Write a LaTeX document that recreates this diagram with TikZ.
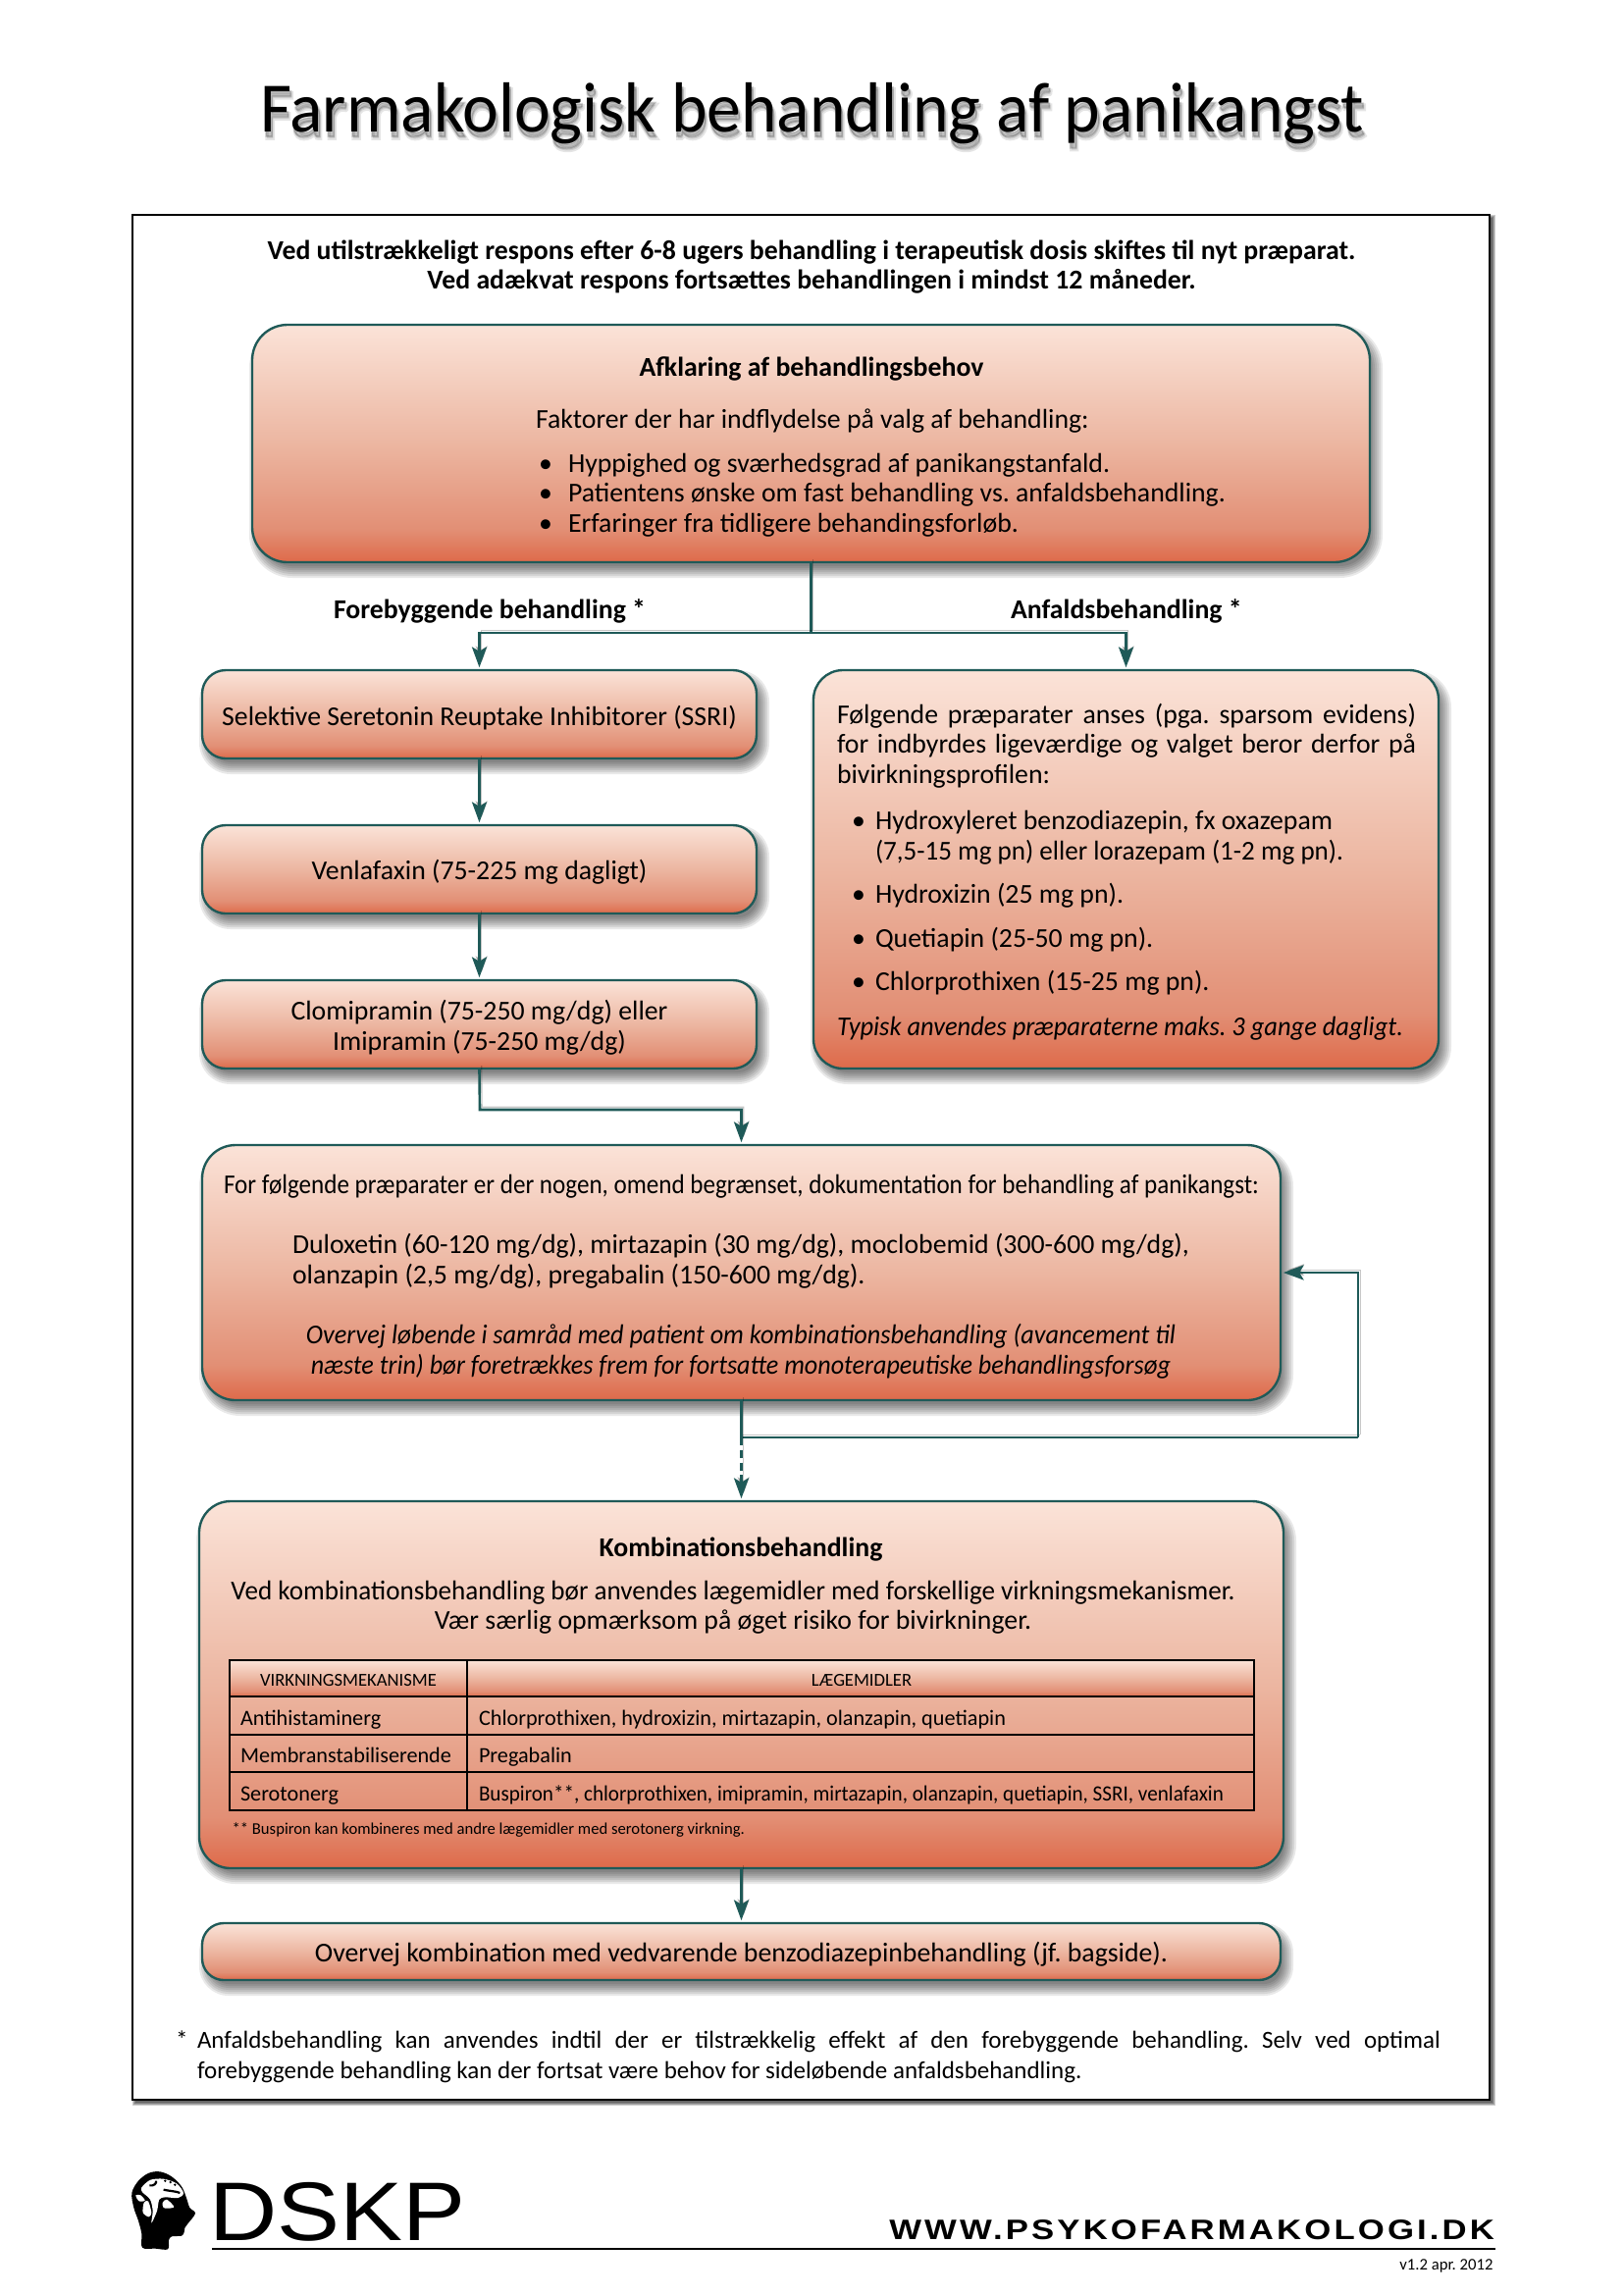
\documentclass[tikz,border=0pt]{standalone}
\usepackage{fontspec}
\usepackage{graphicx}
\setmainfont{Carlito}
\newfontfamily\logofont{Liberation Sans}
\newfontfamily\shadowA[FakeBold=5]{Carlito}
\newfontfamily\shadowB[FakeBold=2.4]{Carlito}
\usetikzlibrary{arrows.meta,calc}
\definecolor{tealline}{HTML}{1F5A58}
\definecolor{grD}{HTML}{DE6A4A}
\definecolor{grC}{HTML}{E28F75}
\definecolor{grB}{HTML}{ECB6A1}
\definecolor{grA}{HTML}{FBE3D8}
\pgfdeclareverticalshading{boxshade}{100bp}{color(0bp)=(grD); color(25bp)=(grD); color(32bp)=(grC); color(50bp)=(grB); color(75bp)=(grA); color(100bp)=(grA)}
\newcommand\softshadow[7]{%
  \foreach \e in {8,6,4,2,0,-2,-4}{%
    \pgfmathsetmacro\rr{max(#5+\e,0)*0.36}%
    \fill[black,opacity=.085,rounded corners=\rr pt] ({#1+#6-\e},{#2+#7-\e}) rectangle ({#3+#6+\e},{#4+#7+\e});
  }}
% name, x1,y1,x2,y2, radius, text
\newcommand\softbox[7]{%
  \softshadow{#2}{#3}{#4}{#5}{#6}{5}{8}%
  \pgfmathsetmacro\bw{(#4-#2)*0.36}\pgfmathsetmacro\bh{(#5-#3)*0.36}\pgfmathsetmacro\brr{#6*0.36}%
  \node[flowbox,rounded corners=\brr pt,minimum width=\bw pt,minimum height=\bh pt] (#1) at ({(#2+#4)/2},{(#3+#5)/2}) {#7};}
\newcommand\fitw[2]{\resizebox{\dimexpr #1*36/100\relax}{\height}{#2}}
\newcommand\just[2]{\makebox[\dimexpr #1*36/100\relax][s]{#2}}
\newcommand\dn{\rule{0pt}{9.6pt}}
\newcommand\titlefont{\fontsize{26}{30}\selectfont}
\newcommand\titletext{Farmakologisk behandling af panikangst}
\tikzset{
  flowbox/.style={draw=tealline,line width=.85pt,shading=boxshade,shading angle=0,inner sep=0pt,outer sep=0pt,align=center,font=\bodyfont},
  conn/.style={draw=tealline,line width=.95pt,preaction={draw=black,opacity=.22,transform canvas={shift={(.8pt,1pt)}}}},
  arr/.style={conn,-{Stealth[length=7.5pt,width=5.4pt,inset=1.6pt]},shorten >=1pt},
  line/.style={anchor=base west,inner sep=0pt,outer sep=0pt,font=\bodyfont},
  footline/.style={anchor=base west,inner sep=0pt,outer sep=0pt,font=\footfont},
  cline/.style={anchor=base,inner sep=0pt,outer sep=0pt,font=\bodyfont},
  bline/.style={anchor=base,inner sep=0pt,outer sep=0pt,font=\bodyfont\bfseries},
  bleft/.style={anchor=base west,inner sep=0pt,outer sep=0pt,font=\bodyfont\bfseries},
  iline/.style={anchor=base,inner sep=0pt,outer sep=0pt,font=\bodyfont\itshape},
  tcell/.style={anchor=base west,inner sep=0pt,outer sep=0pt,font=\cellfont},
  thead/.style={anchor=base,inner sep=0pt,outer sep=0pt,font=\headfont},
  titleshadow/.style={anchor=base,inner sep=0pt,text=black},
}
\newcommand\bodyfont{\fontsize{10}{11.3}\selectfont}
\newcommand\footfont{\fontsize{9}{11}\selectfont}
\newcommand\cellfont{\fontsize{8}{9}\selectfont}
\newcommand\headfont{\fontsize{6.7}{8}\selectfont}
\begin{document}
\frenchspacing
\begin{tikzpicture}[x=0.36pt,y=-0.36pt]
\useasboundingbox (0,0) rectangle (1654,2339);
% title
\node[titleshadow,opacity=.10] (ts1) at (830,141) {\shadowA\titlefont\fitw{1125pt}{\titletext}};
\node[titleshadow,opacity=.16] (ts2) at (829,139) {\shadowB\titlefont\fitw{1125pt}{\titletext}};
\node[anchor=base,inner sep=0pt] (title) at (828,134) {\titlefont\fitw{1125pt}{\titletext}};
% frame
\foreach \e in {3,2,1,0}{\fill[black,opacity=.2] ({135+3-\e},{219+3-\e}) rectangle ({1518+3+\e},{2140+3+\e});}
\node[draw=black,fill=white,line width=.8pt,inner sep=0pt,outer sep=0pt,minimum width=497.9pt,minimum height=691.6pt] (frame) at (826.5,1179.5) {};
% intro
\node[bline] (intro1) at (827,264) {Ved utilstrækkeligt respons efter 6-8 ugers behandling i terapeutisk dosis skiftes til nyt præparat.};
\node[bline] (intro2) at (827,294) {Ved adækvat respons fortsættes behandlingen i mindst 12 måneder.};
% box 1
\softbox{b1}{257}{331}{1396}{573}{36}{}
\node[bline] (b1t) at (827,383) {Afklaring af behandlingsbehov};
\node[line] (b1a) at (546,436) {Faktorer der har indflydelse på valg af behandling:};
\node[line] (b1d1) at (549,481) {•};
\node[line] (b1l1) at (579,481) {Hyppighed og sværhedsgrad af panikangstanfald.};
\node[line] (b1d2) at (549,511) {•};
\node[line] (b1l2) at (579,511) {Patientens ønske om fast behandling vs. anfaldsbehandling.};
\node[line] (b1d3) at (549,542) {•};
\node[line] (b1l3) at (579,542) {Erfaringer fra tidligere behandingsforløb.};
% labels
\node[bleft] (forl) at (340,630) {Forebyggende behandling *};
\node[bleft] (anfl) at (1030,630) {Anfaldsbehandling *};
% left chain
\softbox{ssri}{206}{683}{771}{773}{24}{\dn Selektive Seretonin Reuptake Inhibitorer (SSRI)}
\softbox{venl}{206}{841}{771}{931}{24}{\dn Venlafaxin (75-225 mg dagligt)}
\softbox{clom}{206}{999}{771}{1089}{24}{\dn Clomipramin (75-250 mg/dg) eller\\Imipramin (75-250 mg/dg)}
% right box
\softbox{anf}{829}{683}{1466}{1089}{30}{}
\node[line] (r1) at (853,737.5) {\just{590pt}{Følgende præparater anses (pga. sparsom evidens)}};
\node[line] (r2) at (853,767.5) {\just{590pt}{for indbyrdes ligeværdige og valget beror derfor på}};
\node[line] (r3) at (853,798) {bivirkningsprofilen:};
\node[line] (rd1) at (868,845) {•};
\node[line] (r4) at (892,845) {Hydroxyleret benzodiazepin, fx oxazepam};
\node[line] (r5) at (892,876) {\fitw{477pt}{(7,5-15 mg pn) eller lorazepam (1-2 mg pn).}};
\node[line] (rd2) at (868,920) {•};
\node[line] (r6) at (892,920) {Hydroxizin (25 mg pn).};
\node[line] (rd3) at (868,965) {•};
\node[line] (r7) at (892,965) {Quetiapin (25-50 mg pn).};
\node[line] (rd4) at (868,1009) {•};
\node[line] (r8) at (892,1009) {Chlorprothixen (15-25 mg pn).};
\node[line,font=\bodyfont\itshape] (r9) at (853,1055) {\fitw{577pt}{Typisk anvendes præparaterne maks. 3 gange dagligt.}};
% box 4
\softbox{b4}{206}{1167}{1305}{1427}{34}{}
\node[line] (b4a) at (228,1216) {\fitw{1055pt}{For følgende præparater er der nogen, omend begrænset, dokumentation for behandling af panikangst:}};
\node[line] (b4b) at (298,1277) {Duloxetin (60-120 mg/dg), mirtazapin (30 mg/dg), moclobemid (300-600 mg/dg),};
\node[line] (b4c) at (298,1308) {olanzapin (2,5 mg/dg), pregabalin (150-600 mg/dg).};
\node[iline] (b4d) at (755,1369) {\fitw{886pt}{Overvej løbende i samråd med patient om kombinationsbehandling (avancement til}};
\node[iline] (b4e) at (755,1400) {\fitw{876pt}{næste trin) bør foretrækkes frem for fortsatte monoterapeutiske behandlingsforsøg}};
% box 5
\softbox{b5}{203}{1530}{1308}{1904}{32}{}
\node[bline] (b5t) at (755,1586) {Kombinationsbehandling};
\node[cline] (b5a) at (747,1630) {\fitw{1023pt}{Ved kombinationsbehandling bør anvendes lægemidler med forskellige virkningsmekanismer.}};
\node[cline] (b5b) at (747,1660.5) {Vær særlig opmærksom på øget risiko for bivirkninger.};
% table
\shade[shading=boxshade,shading angle=0] (234,1692) rectangle (1278,1729);
\draw[black,line width=.55pt] (234,1692) rectangle (1278,1845);
\draw[black,line width=.55pt] (234,1729) -- (1278,1729) (234,1768) -- (1278,1768) (234,1806) -- (1278,1806) (476,1692) -- (476,1845);
\node[thead] (h1) at (355,1718) {VIRKNINGSMEKANISME};
\node[thead] (h2) at (878,1718) {LÆGEMIDLER};
\node[tcell] (c11) at (245,1758) {Antihistaminerg};
\node[tcell] (c12) at (488,1758) {Chlorprothixen, hydroxizin, mirtazapin, olanzapin, quetiapin};
\node[tcell] (c21) at (245,1796) {Membranstabiliserende};
\node[tcell] (c22) at (488,1796) {Pregabalin};
\node[tcell] (c31) at (245,1835) {Serotonerg};
\node[tcell] (c32) at (488,1835) {\fitw{759pt}{Buspiron**, chlorprothixen, imipramin, mirtazapin, olanzapin, quetiapin, SSRI, venlafaxin}};
\node[anchor=base west,inner sep=0pt,font=\fontsize{6}{7}\selectfont] (fn2) at (236,1869) {** Buspiron kan kombineres med andre lægemidler med serotonerg virkning.};
% box 6
\softbox{b6}{206}{1960}{1305}{2018}{22}{\dn Overvej kombination med vedvarende benzodiazepinbehandling (jf. bagside).}
% footnote
\node[footline] (fs) at (179,2087) {*};
\node[footline] (f1) at (201,2087) {\just{1267pt}{Anfaldsbehandling kan anvendes indtil der er tilstrækkelig effekt af den forebyggende behandling. Selv ved optimal}};
\node[footline] (f2) at (201,2118) {forebyggende behandling kan der fortsat være behov for sideløbende anfaldsbehandling.};
% connectors
\coordinate (split) at (828,645);
\coordinate (cb) at (489,1131);
\coordinate (loopL) at (755.5,1465);
\coordinate (loopR) at (1384,1465);
\draw[conn] (b1.south) -- (b1.south |- split);
\draw[arr] (b1.south |- split) -| (ssri.north);
\draw[arr] (b1.south |- split) -| (anf.north);
\draw[arr] (ssri.south) -- (venl.north);
\draw[arr] (venl.south) -- (clom.north);
\draw[arr] (clom.south) -- (cb) -| (b4.north);
\draw[conn] (b4.south) -- (loopL) -- (loopR);
\draw[arr] (loopR) |- (b4.east);
\draw[arr,dashed,dash pattern=on 3pt off 1.6pt] (loopL) -- (b5.north);
\draw[arr] (b5.south) -- (b6.north);
% logo head
\begin{scope}[shift={(125,2200)},x=0.12pt,y=-0.12pt]
\fill[black] plot[smooth cycle,tension=.55] coordinates {(115,40) (80,44) (48,68) (28,105) (34,150) (48,190) (58,230) (60,272) (100,275) (138,277) (141,250) (150,238) (180,236) (188,225) (190,212) (200,198) (222,167) (205,150) (195,120) (180,85) (150,55)};
\fill[white] plot[smooth cycle,tension=.5] coordinates {(58,88) (85,65) (125,62) (165,76) (186,105) (170,120) (130,118) (112,125) (105,160) (88,197) (92,160) (84,125) (60,102)};
\fill[white] plot[smooth cycle,tension=.5] coordinates {(40,112) (55,112) (68,128) (50,130)};
\fill[white] plot[smooth cycle,tension=.5] coordinates {(65,135) (78,130) (88,165) (80,178) (62,165)};
\fill[white] plot[smooth cycle,tension=.5] coordinates {(122,135) (135,125) (157,147) (140,152) (125,150)};
\fill[black] (130,68) circle (4) (146,72) circle (4) (160,80) circle (4);
\draw[black,line width=.8pt] (82,82) .. controls (95,85) and (105,75) .. (102,68) (125,95) .. controls (150,100) and (165,100) .. (175,105);
\end{scope}
% logo text
\node[anchor=south west,inner sep=0pt,outer sep=0pt] (dskp) at (213,2284) {\resizebox{94pt}{21.3pt}{\logofont DSKP}};
\node[anchor=south east,inner sep=0pt,outer sep=0pt] (www) at (1523,2283) {\resizebox{222pt}{7.2pt}{\logofont\bfseries\addfontfeature{LetterSpace=9}WWW.PSYKOFARMAKOLOGI.DK}};
\coordinate (ruleL) at (216,2292);
\coordinate (ruleR) at (1524,2292);
\draw[black,line width=1pt] (ruleL) -- (ruleR);
\node[anchor=base east,inner sep=0pt,font=\fontsize{6}{7}\selectfont] (ver) at (1522,2313) {v1.2 apr. 2012};
\end{tikzpicture}
\end{document}
